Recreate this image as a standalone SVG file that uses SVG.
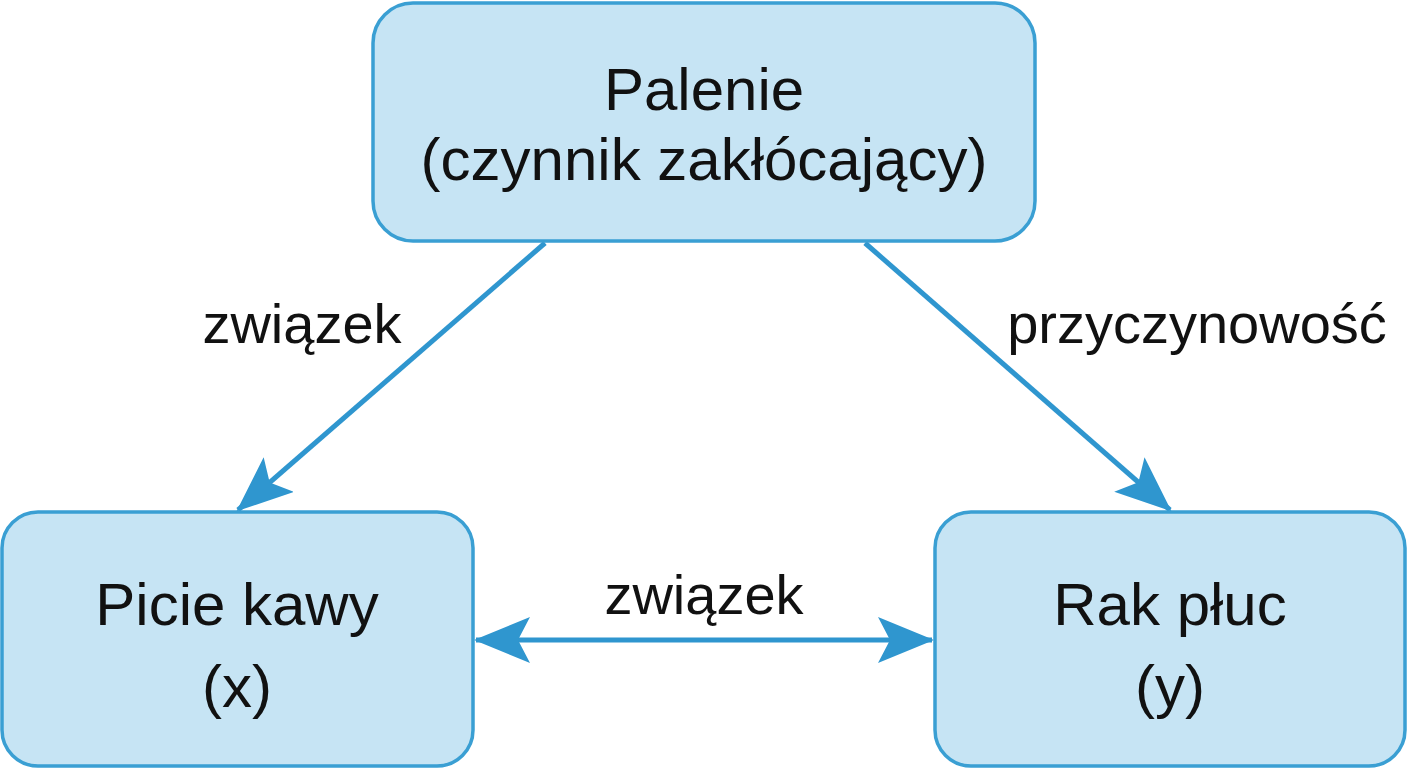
<svg xmlns="http://www.w3.org/2000/svg" width="1408" height="768" viewBox="0 0 1408 768">
<style>
.box{fill:#c6e4f4;stroke:#3a9fd3;stroke-width:3.5}
.t{font-family:"Liberation Sans",Arial,sans-serif;font-size:60px;fill:#111;text-anchor:middle}
.l{font-family:"Liberation Sans",Arial,sans-serif;font-size:56px;fill:#111;text-anchor:middle}
.c{stroke:#2f96cf;stroke-width:5;fill:none}
</style>
<defs>
<marker id="ah" viewBox="0 0 56 46" refX="54" refY="23" markerWidth="56" markerHeight="46" markerUnits="userSpaceOnUse" orient="auto-start-reverse">
<path d="M0,0 L56,23 L0,46 L12,23 Z" fill="#2f96cf"/>
</marker>
</defs>
<rect width="1408" height="768" fill="#fff"/>
<g id="connectors">
<line class="c" x1="545" y1="243" x2="238" y2="510" marker-end="url(#ah)"/>
<line class="c" x1="865" y1="243" x2="1170" y2="510" marker-end="url(#ah)"/>
<line class="c" x1="476" y1="640" x2="932" y2="640" marker-start="url(#ah)" marker-end="url(#ah)"/>
<text class="l" x="302" y="343">związek</text>
<text class="l" x="1197" y="343">przyczynowość</text>
<text class="l" x="704" y="614">związek</text>
</g>
<g id="palenie">
<rect class="box" x="373" y="3" width="662" height="238" rx="40"/>
<text class="t" x="704" y="110">Palenie</text>
<text class="t" x="704" y="180">(czynnik zakłócający)</text>
</g>
<g id="kawa">
<rect class="box" x="2" y="512" width="471" height="254" rx="36"/>
<text class="t" x="237" y="625">Picie kawy</text>
<text class="t" x="237" y="707">(x)</text>
</g>
<g id="rak">
<rect class="box" x="935" y="512" width="470" height="254" rx="36"/>
<text class="t" x="1170" y="625">Rak płuc</text>
<text class="t" x="1170" y="707">(y)</text>
</g>
</svg>
